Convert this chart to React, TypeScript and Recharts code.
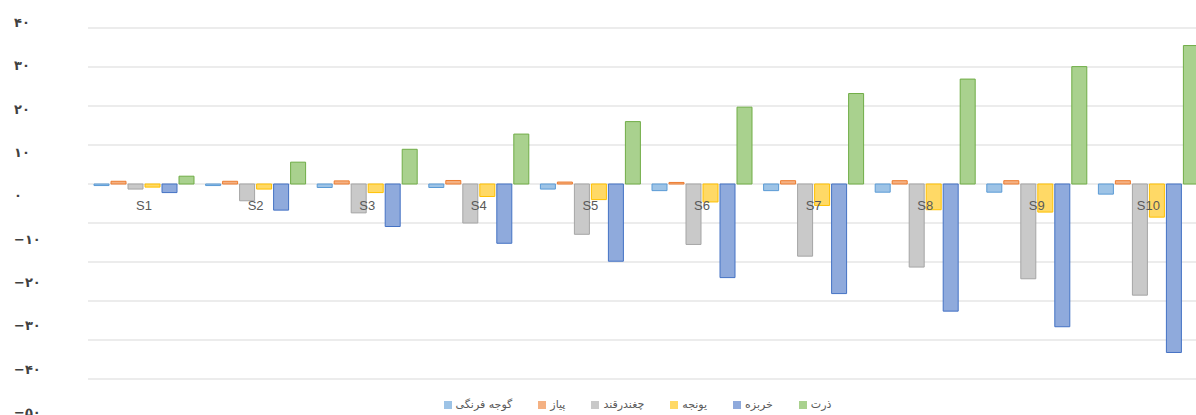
import React from 'react';
import { BarChart, Bar, XAxis, YAxis, CartesianGrid, Legend } from 'recharts';

// crop names, S1..S10 scenarios
const categories = ['S1', 'S2', 'S3', 'S4', 'S5', 'S6', 'S7', 'S8', 'S9', 'S10'];
const tomato = [-0.4, -0.4, -0.9, -0.9, -1.3, -1.7, -1.7, -2.1, -2.1, -2.6];
const onion = [0.7, 0.7, 0.8, 0.9, 0.5, 0.4, 0.85, 0.85, 0.85, 0.85];
const sugarBeet = [-1.3, -4.3, -7.4, -10.0, -12.9, -15.5, -18.5, -21.3, -24.3, -28.5];
const alfalfa = [-0.8, -1.3, -2.2, -3.2, -4.0, -4.6, -5.5, -6.6, -7.2, -8.5];
const melon = [-2.2, -6.7, -10.9, -15.2, -19.8, -24.0, -28.1, -32.6, -36.6, -43.2];
const corn = [2.0, 5.6, 8.9, 12.8, 16.0, 19.7, 23.2, 26.9, 30.1, 35.5];
const yTicks = [40, 30, 20, 10, 0, -10, -20, -30, -40, -50];

const series = [
  { key: 'tomato', name: 'گوجه فرنگی', fill: '#9dc3e6', stroke: '#5b9bd5' },
  { key: 'onion', name: 'پیاز', fill: '#f4b183', stroke: '#ed7d31' },
  { key: 'sugarBeet', name: 'چغندرقند', fill: '#c9c9c9', stroke: '#a5a5a5' },
  { key: 'alfalfa', name: 'یونجه', fill: '#ffd966', stroke: '#ffc000' },
  { key: 'melon', name: 'خربزه', fill: '#8faadc', stroke: '#4472c4' },
  { key: 'corn', name: 'ذرت', fill: '#a9d18e', stroke: '#70ad47' },
];
const seriesOrder = series.map((s) => s.name);

const data = categories.map((name, i) => ({
  name,
  tomato: tomato[i],
  onion: onion[i],
  sugarBeet: sugarBeet[i],
  alfalfa: alfalfa[i],
  melon: melon[i],
  corn: corn[i],
  axis: 0, // helper for the category labels that sit on the zero line
}));

const PLOT_TOP = 28;
const FA_DIGITS = '۰۱۲۳۴۵۶۷۸۹';
const toPersian = (v: number) => {
  const s = String(Math.abs(v)).replace(/\d/g, (d) => FA_DIGITS[Number(d)]);
  return v < 0 ? '−' + s : s;
};

// labels in the source sit on a slightly stretched spacing vs the gridlines
const YTick = ({ y, payload }: any) => {
  const labelY = PLOT_TOP - 6 + (y - PLOT_TOP) * 1.111;
  return (
    <text x={14} y={labelY} dy={5} textAnchor="start" fill="#404040" fontSize={13} fontWeight="bold" fontFamily="DejaVu Sans">
      {toPersian(payload.value)}
    </text>
  );
};

// category name drawn just under the zero line
const CategoryLabel = (props: any) => {
  const { x, y, width, index } = props;
  return (
    <text x={x + width / 2} y={y} dy={27} textAnchor="middle" fill="#595959" fontSize={13} fontFamily="Liberation Sans">
      {categories[index]}
    </text>
  );
};

export default function App() {
  return (
    <div style={{ position: 'absolute', left: 0, top: 0, width: 1196, height: 415, overflow: 'hidden', background: '#fff' }}>
      <BarChart
        width={1210}
        height={415}
        data={data}
        margin={{ top: PLOT_TOP, right: 6, left: 0, bottom: 23 }}
        barCategoryGap={6}
        barGap={2}
      >
        <CartesianGrid vertical={false} stroke="#d9d9d9" />
        <XAxis dataKey="name" hide />
        <XAxis dataKey="name" xAxisId="labels" hide />
        <YAxis
          domain={[-50, 40]}
          ticks={yTicks}
          interval={0}
          width={88}
          axisLine={false}
          tickLine={false}
          tick={<YTick />}
        />
        <Legend
          verticalAlign="bottom"
          align="center"
          iconType="square"
          iconSize={8}
          itemSorter={(item: any) => seriesOrder.indexOf(item.value)}
          wrapperStyle={{ left: 100, width: 1101, bottom: 4, fontSize: 11, fontFamily: 'DejaVu Sans' }}
          formatter={(value: string) => <span style={{ color: '#595959', paddingRight: 16 }}>{value}</span>}
        />
        {series.map((s) => (
          <Bar
            key={s.key}
            dataKey={s.key}
            name={s.name}
            fill={s.fill}
            stroke={s.stroke}
            strokeWidth={1}
            isAnimationActive={false}
          />
        ))}
        <Bar
          dataKey="axis"
          xAxisId="labels"
          fill="none"
          stroke="none"
          legendType="none"
          minPointSize={1}
          isAnimationActive={false}
          label={<CategoryLabel />}
        />
      </BarChart>
    </div>
  );
}
